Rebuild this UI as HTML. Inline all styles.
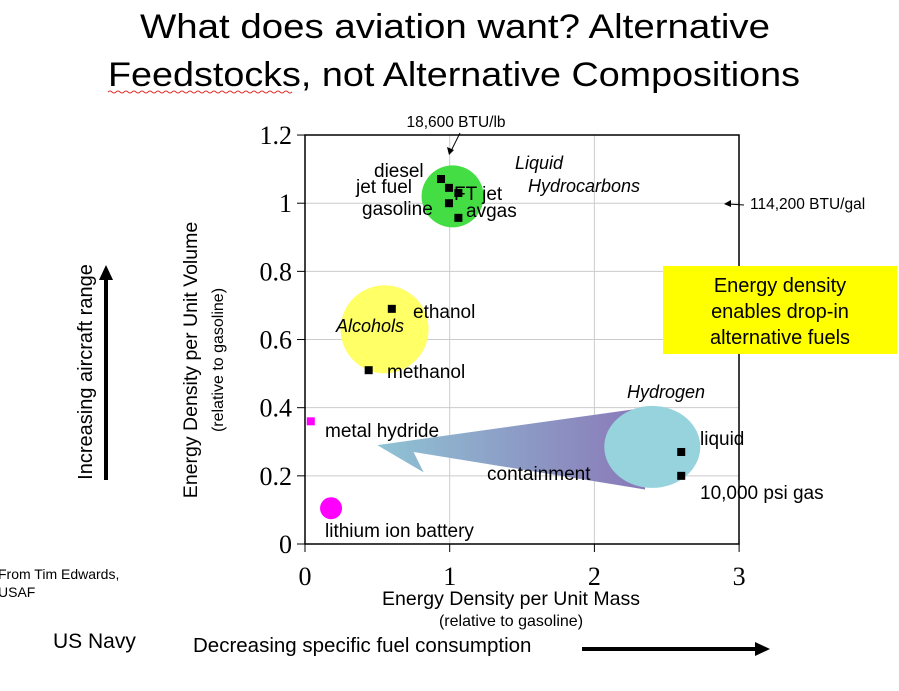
<!DOCTYPE html>
<html><head><meta charset="utf-8"><style>
body{margin:0;background:#fff;width:899px;height:686px;overflow:hidden;font-family:"Liberation Sans",sans-serif}
</style></head><body>
<svg width="899" height="686" xmlns="http://www.w3.org/2000/svg">
<defs><linearGradient id="g" x1="0" x2="1"><stop offset="0" stop-color="#8fc3d4"/><stop offset="1" stop-color="#8a78b8"/></linearGradient></defs>
<text x="140" y="38" font-size="34" textLength="630" lengthAdjust="spacingAndGlyphs">What does aviation want? Alternative</text>
<text x="108" y="86" font-size="34" textLength="692" lengthAdjust="spacingAndGlyphs">Feedstocks, not Alternative Compositions</text>
<path d="M108 92 q2 -2 4 0 t4 0 t4 0 t4 0 t4 0 t4 0 t4 0 t4 0 t4 0 t4 0 t4 0 t4 0 t4 0 t4 0 t4 0 t4 0 t4 0 t4 0 t4 0 t4 0 t4 0 t4 0 t4 0 t4 0 t4 0 t4 0 t4 0 t4 0 t4 0 t4 0 t4 0 t4 0 t4 0 t4 0 t4 0 t4 0 t4 0 t4 0 t4 0 t4 0 t4 0 t4 0 t4 0 t4 0 t4 0 t4 0" stroke="#d33" fill="none" stroke-width="1"/>
<g id="plot"></g>
<text x="456" y="127" font-size="15.5" text-anchor="middle">18,600 BTU/lb</text>
<line x1="460" y1="133" x2="451" y2="151" stroke="#000"/><path d="M449 155 l-2 -8 l7 3z"/>
<text x="750" y="209" font-size="15.5">114,200 BTU/gal</text>
<line x1="744" y1="205" x2="728" y2="204" stroke="#000"/><path d="M724 204 l7 -4 l0 7z"/>
<rect x="663" y="266" width="234" height="88" fill="#ffff00"/>
<text font-size="20" text-anchor="middle"><tspan x="780" y="292">Energy density</tspan><tspan x="780" y="318">enables drop-in</tspan><tspan x="780" y="344">alternative fuels</tspan></text>
<text transform="translate(197,360) rotate(-90)" font-size="19.5" text-anchor="middle">Energy Density per Unit Volume</text>
<text transform="translate(223,360) rotate(-90)" font-size="16" text-anchor="middle">(relative to gasoline)</text>
<text x="511" y="605" font-size="19.5" text-anchor="middle">Energy Density per Unit Mass</text>
<text x="511" y="626" font-size="16" text-anchor="middle">(relative to gasoline)</text>
<text transform="translate(92,372) rotate(-90)" font-size="20" text-anchor="middle">Increasing aircraft range</text>
<line x1="106" y1="480" x2="106" y2="278" stroke="#000" stroke-width="4"/><path d="M99 280 l7 -15 l7 15z"/>
<text x="193" y="652" font-size="20.5">Decreasing specific fuel consumption</text>
<line x1="582" y1="649" x2="755" y2="649" stroke="#000" stroke-width="4"/><path d="M755 642 l15 7 l-15 7z"/>
<text x="53" y="648" font-size="21">US Navy</text>
<text font-size="14"><tspan x="-2" y="579">From Tim Edwards,</tspan><tspan x="-2" y="597">USAF</tspan></text>
</svg>
<script>
const xTicks=[0,1,2,3];
const yTicks=[0,0.2,0.4,0.6,0.8,1,1.2];
const yTickLabels=["0","0.2","0.4","0.6","0.8","1","1.2"];
const pointNames=["diesel","jet-fuel","ft-jet","gasoline","avgas","ethanol","methanol","liquid-hydrogen","gas-hydrogen"];
const pointX=[0.94,0.995,1.06,0.995,1.06,0.6,0.44,2.6,2.6];
const pointY=[1.071,1.045,1.03,1.0,0.957,0.69,0.51,0.27,0.2];
const X=v=>305+v*144.7, Y=v=>544-v*340.8;
const NS="http://www.w3.org/2000/svg";
const g=document.getElementById('plot');
function mk(t,a,p){const e=document.createElementNS(NS,t);for(const k in a)e.setAttribute(k,a[k]);(p||g).appendChild(e);return e;}
yTicks.forEach((t,i)=>{mk('line',{x1:305,x2:739,y1:Y(t),y2:Y(t),stroke:'#ccc'});
 mk('line',{x1:297,x2:305,y1:Y(t),y2:Y(t),stroke:'#000'});
 const tx=mk('text',{x:292,y:Y(t)+9,'font-size':26,'text-anchor':'end','font-family':'Liberation Serif, serif'});tx.textContent=yTickLabels[i];
 
 });
xTicks.forEach(t=>{mk('line',{x1:X(t),x2:X(t),y1:135,y2:544,stroke:'#ccc'});
 mk('line',{x1:X(t),x2:X(t),y1:544,y2:552,stroke:'#000'});
 const tx=mk('text',{x:X(t),y:585,'font-size':26,'text-anchor':'middle','font-family':'Liberation Serif, serif'});tx.textContent=t;
 
 });
mk('rect',{x:305,y:135,width:434,height:409,fill:'none',stroke:'#000','stroke-width':1.5});
mk('circle',{cx:X(1.02),cy:Y(1.02),r:31,fill:'#44dd44'});
mk('circle',{cx:X(0.55),cy:Y(0.63),r:44,fill:'#ffff66'});
mk('path',{d:`M${X(2.35)} ${Y(0.4)} L${X(0.5)} ${Y(0.29)} L${X(0.82)} ${Y(0.21)} L${X(0.75)} ${Y(0.27)} L${X(2.35)} ${Y(0.16)} Z`,fill:'url(#g)'});
mk('ellipse',{cx:X(2.4),cy:Y(0.285),rx:48,ry:41,fill:'#96d3dc'});
mk('rect',{x:X(0.04)-4,y:Y(0.36)-4,width:8,height:8,fill:'#ff00ff'});
mk('circle',{cx:X(0.18),cy:Y(0.105),r:11,fill:'#ff00ff'});
pointX.forEach((x,i)=>{const r=mk('rect',{x:X(x)-4,y:Y(pointY[i])-4,width:8,height:8,fill:'#000'});
 
 });
const labels=[["diesel",374,177,0],["jet fuel",356,193,0],["FT jet",454,200,0],["gasoline",362,215,0],["avgas",466,217,0],["Liquid",515,169,1],["Hydrocarbons",528,192,1],["ethanol",413,318,0],["Alcohols",336,332,1],["methanol",387,378,0],["Hydrogen",627,398,1],["liquid",700,445,0],["containment",487,480,0],["10,000 psi gas",700,499,0],["metal hydride",325,437,0],["lithium ion battery",325,537,0]];
labels.forEach(l=>{const t=mk('text',{x:l[1],y:l[2],'font-size':l[3]?18:19,'font-style':l[3]?'italic':'normal'});t.textContent=l[0];
 
 });
</script>
</body></html>
